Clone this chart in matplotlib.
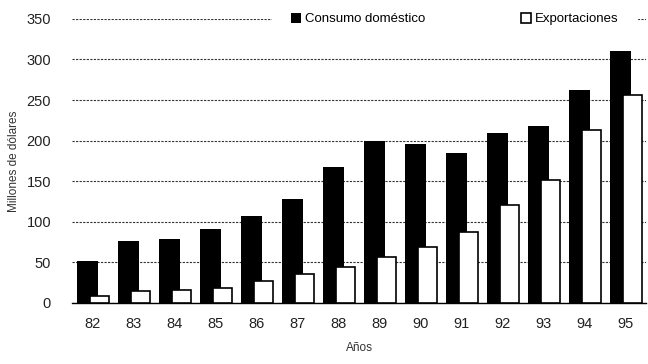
import matplotlib
matplotlib.use('Agg')
import matplotlib.pyplot as plt
import numpy as np

plt.rcParams['font.family'] = ['Liberation Sans', 'DejaVu Sans']

# Años y valores (millones de dólares)
anios = ['82', '83', '84', '85', '86', '87', '88', '89', '90', '91', '92', '93', '94', '95']
consumo = [52, 76, 79, 91, 107, 128, 168, 200, 196, 185, 209, 218, 262, 310]
exportaciones = [9, 15, 16, 18, 27, 35, 44, 56, 69, 87, 121, 152, 213, 256]

x = np.arange(len(anios))

fig = plt.figure(figsize=(6.48, 3.64), dpi=100)
ax = fig.add_axes([0.111, 0.168, 0.886, 0.78])

ax.bar(x - 0.12, consumo, width=0.51, color='black', zorder=2,
       label='Consumo doméstico')
ax.bar(x + 0.17, exportaciones, width=0.46, color='white', edgecolor='black',
       linewidth=1.2, zorder=3, label='Exportaciones')

ax.set_xlim(-0.51, 13.5)
ax.set_ylim(0, 350)
ax.set_yticks(range(0, 351, 50))
ax.set_xticks(x)
ax.set_xticklabels(anios)

ax.yaxis.grid(True, linestyle=(0, (2, 1.2)), color='#333333', linewidth=0.8, zorder=0)
ax.set_axisbelow(True)

for s in ['top', 'right', 'left']:
    ax.spines[s].set_visible(False)
ax.spines['bottom'].set_linewidth(1.0)
ax.tick_params(axis='both', length=0, labelsize=10.5, colors='#222222')
ax.tick_params(axis='y', pad=15)
ax.tick_params(axis='x', pad=10)

ax.set_ylabel('Millones de dólares', fontsize=8.5, color='#333333', labelpad=5)
ax.set_xlabel('Años', fontsize=8.5, color='#333333', labelpad=8)

leg = ax.legend(loc='center', bbox_to_anchor=(0.667, 1.0), ncol=2, frameon=True,
                fontsize=9.5, handlelength=0.8, handleheight=0.8,
                handletextpad=0.3, columnspacing=7.2, borderpad=1.4)
leg.get_frame().set_facecolor('white')
leg.get_frame().set_edgecolor('white')
leg.get_frame().set_alpha(1)
leg.set_zorder(5)

fig.savefig('out.png', dpi=100)
